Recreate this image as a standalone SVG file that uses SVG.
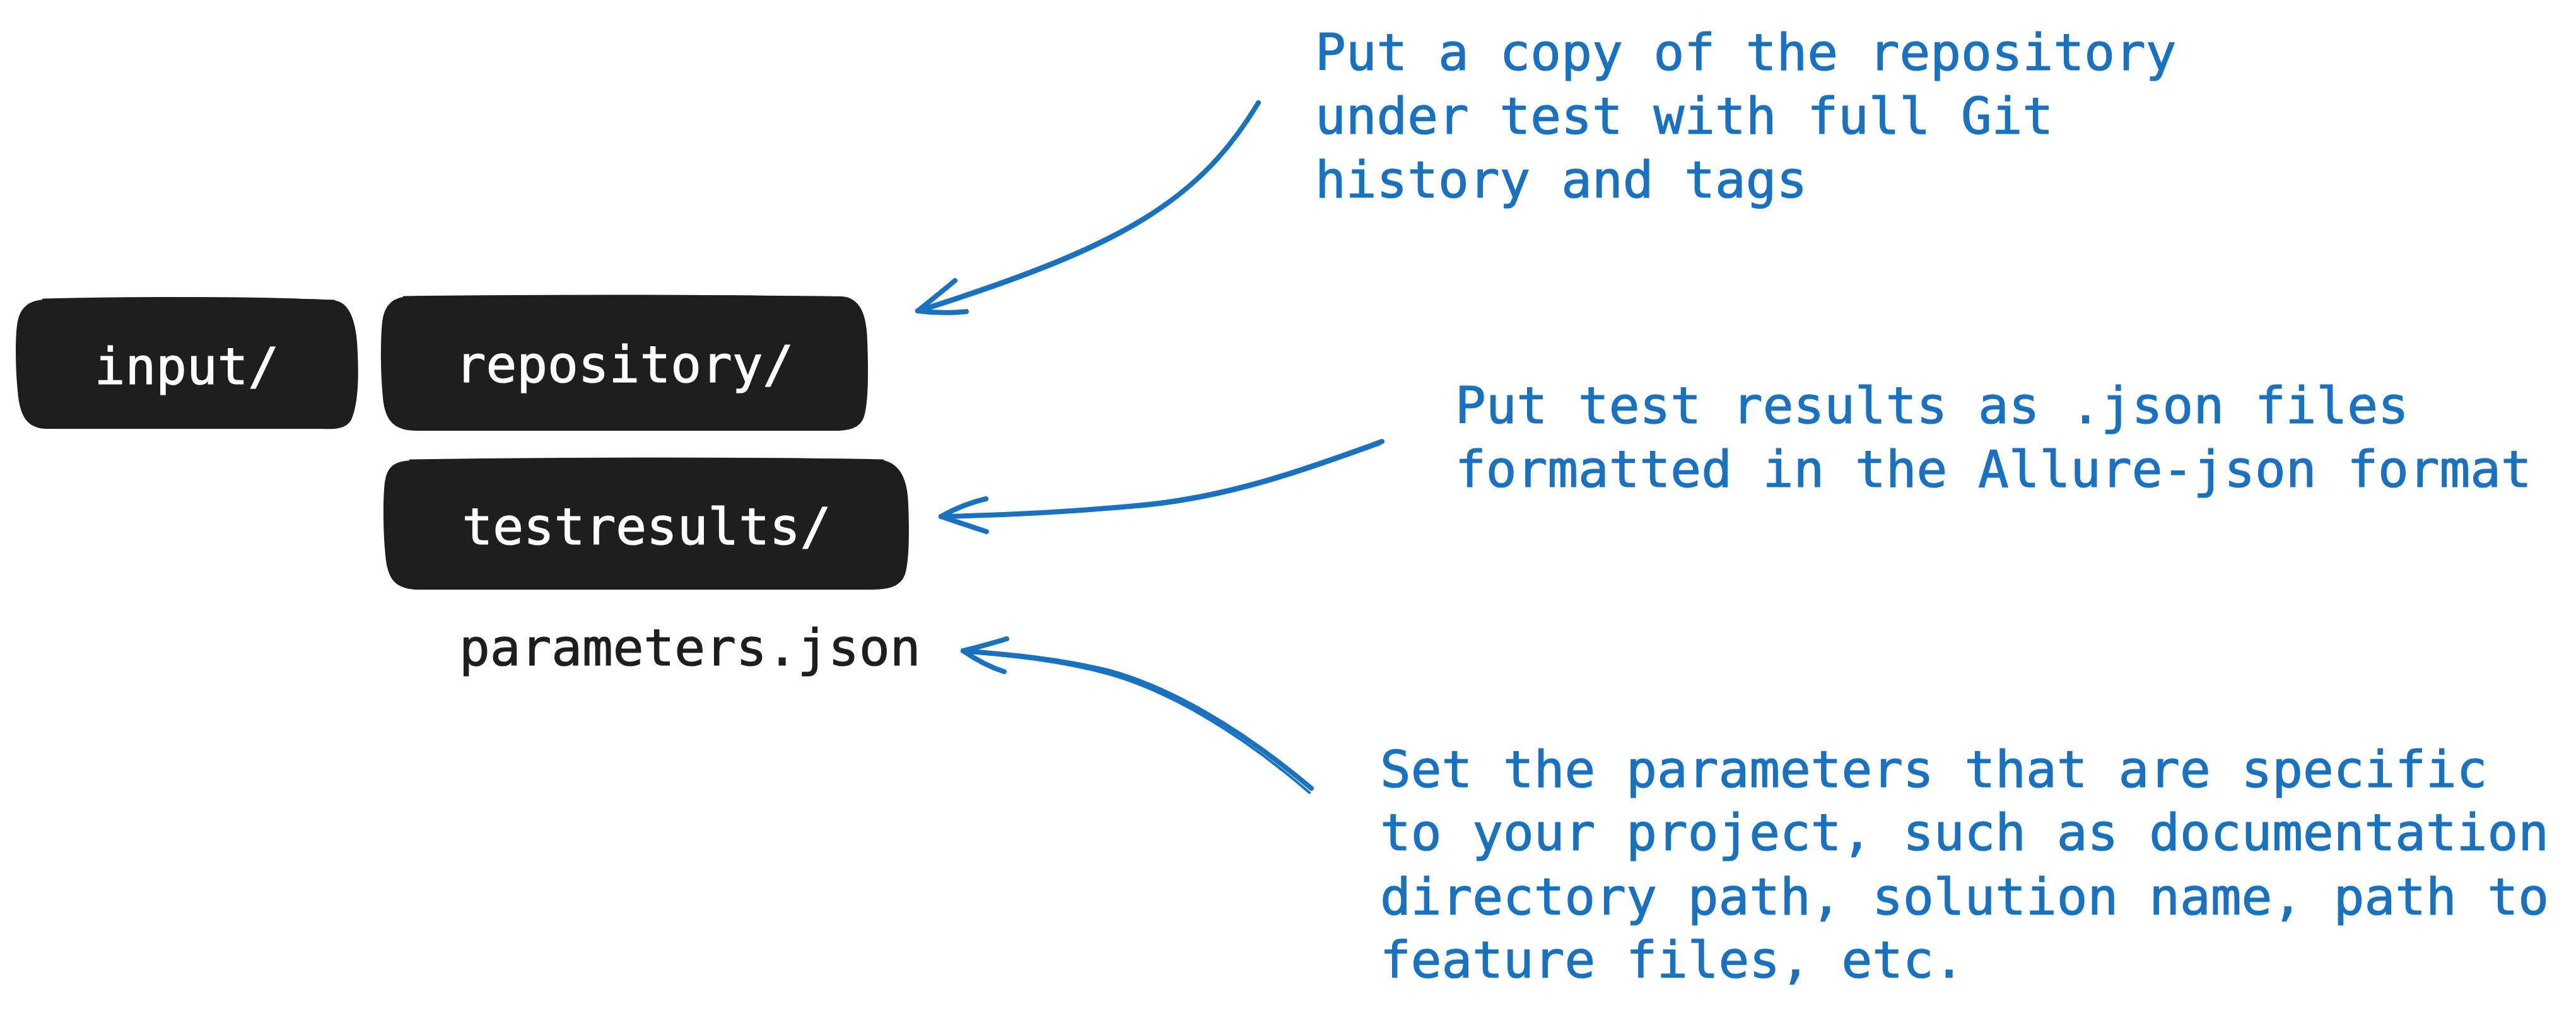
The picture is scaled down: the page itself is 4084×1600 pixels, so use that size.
<svg xmlns="http://www.w3.org/2000/svg" width="4084" height="1600" viewBox="0 0 4084 1600">
<style>
.box{fill:#1e1e1e;stroke:#1e1e1e;stroke-width:4;stroke-linejoin:round}
.sk{fill:none;stroke:#1e1e1e;stroke-width:3;stroke-linecap:round}
.lbl{font-family:"DejaVu Sans Mono","Liberation Mono",monospace;font-size:81px;fill:#ffffff;stroke:#ffffff;stroke-width:1.2;text-anchor:middle}
.txt{font-family:"DejaVu Sans Mono","Liberation Mono",monospace;font-size:81px;fill:#1e1e1e;stroke:#1e1e1e;stroke-width:1.2}
.note{font-family:"DejaVu Sans Mono","Liberation Mono",monospace;font-size:81px;fill:#1971c2;stroke:#1971c2;stroke-width:1.2}
.arr{fill:none;stroke:#1971c2;stroke-width:8;stroke-linecap:round;stroke-linejoin:round}
.arr2{fill:none;stroke:#1971c2;stroke-width:4;stroke-linecap:round;stroke-linejoin:round}
</style>
<rect width="4084" height="1600" fill="#ffffff"/>

<g id="node-input">
<path class="box" d="M70,477 C200,474 380,470 528,478 C556,480 564,520 565,560 C567,600 566,640 555,665 C548,678 530,679 510,678 L75,678 C45,678 33,660 30,620 C26,580 26,530 30,510 C34,488 48,478 70,477 Z"/>
<path class="sk" d="M68,475 C220,471 400,472 530,477"/>
<text class="lbl" x="296" y="609">input/</text>
</g>

<g id="node-repository">
<path class="box" d="M650,472 C850,470 1100,469 1335,472 C1362,474 1372,500 1373,540 C1375,590 1374,640 1368,660 C1362,678 1345,681 1320,681 L660,681 C628,681 612,668 609,630 C605,590 605,540 608,510 C611,484 625,472 650,472 Z"/>
<path class="sk" d="M640,471 C900,468 1150,468 1340,473"/>
<text class="lbl" x="990" y="606">repository/</text>
</g>

<g id="node-testresults">
<path class="box" d="M655,732 C900,728 1150,727 1395,731 C1425,734 1437,760 1438,800 C1440,850 1439,890 1433,910 C1426,930 1405,933 1380,933 L665,933 C630,933 616,920 613,880 C609,840 609,790 612,765 C615,740 628,732 655,732 Z"/>
<path class="sk" d="M650,730 C900,726 1200,726 1400,730"/>
<text class="lbl" x="1025" y="863">testresults/</text>
</g>

<g id="node-parameters">
<text class="txt" x="728" y="1055">parameters.json</text>
</g>

<g id="note-repository">
<text class="note" x="2085" y="111">Put a copy of the repository</text>
<text class="note" x="2085" y="212">under test with full Git</text>
<text class="note" x="2085" y="313">history and tags</text>
</g>

<g id="note-testresults">
<text class="note" x="2307" y="671">Put test results as .json files</text>
<text class="note" x="2307" y="772">formatted in the Allure-json format</text>
</g>

<g id="note-parameters">
<text class="note" x="2188" y="1248">Set the parameters that are specific</text>
<text class="note" x="2188" y="1348">to your project, such as documentation</text>
<text class="note" x="2188" y="1450">directory path, solution name, path to</text>
<text class="note" x="2188" y="1550">feature files, etc.</text>
</g>

<g id="connectors">
<path class="arr" d="M1995,163 C1900,320 1780,390 1455,493"/>
<path class="arr2" d="M1990,170 C1895,326 1776,394 1460,494"/>
<path class="arr" d="M1455,493 Q1490,465 1514,445"/>
<path class="arr" d="M1455,493 Q1495,498 1532,494"/>

<path class="arr" d="M2191,700 C2080,740 1960,785 1820,800 C1700,812 1600,817 1492,819"/>
<path class="arr2" d="M2188,704 C2075,745 1955,789 1815,803 C1700,813 1600,818 1495,820"/>
<path class="arr" d="M1492,819 Q1525,800 1563,791"/>
<path class="arr" d="M1492,819 Q1530,832 1564,843"/>

<path class="arr" d="M2079,1250 C1960,1150 1850,1090 1760,1065 C1680,1045 1600,1038 1527,1032"/>
<path class="arr2" d="M2076,1257 C1958,1155 1848,1095 1758,1069 C1680,1048 1600,1040 1530,1034"/>
<path class="arr" d="M1527,1032 Q1560,1024 1596,1013"/>
<path class="arr" d="M1527,1032 Q1560,1055 1592,1065"/>
</g>
</svg>
